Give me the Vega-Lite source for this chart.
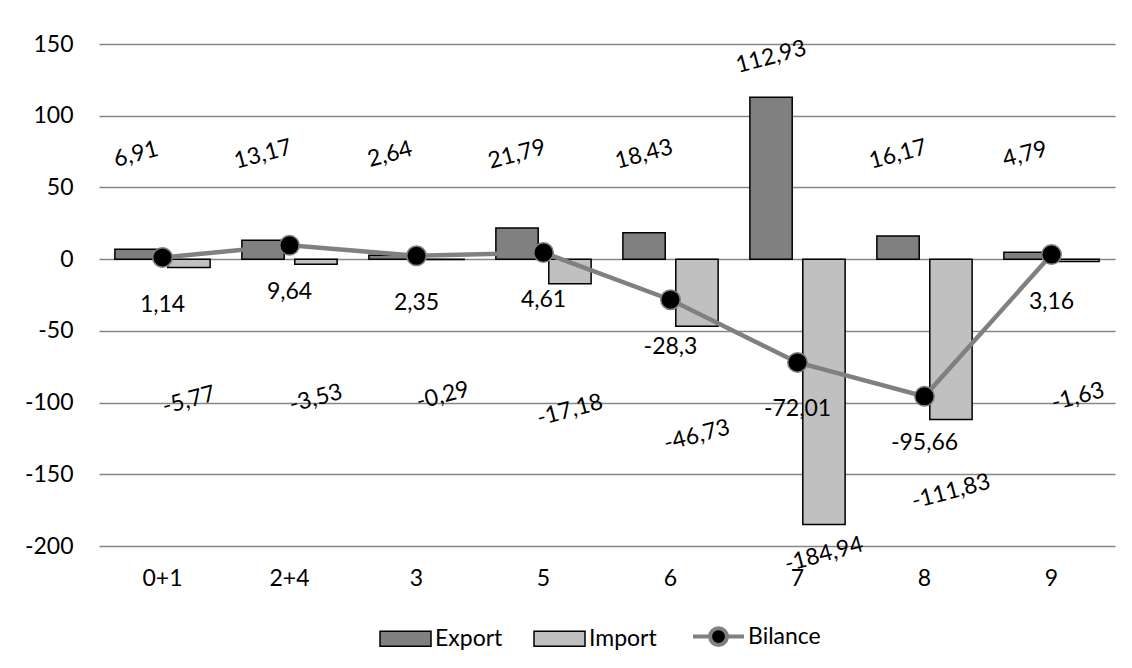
{
  "$schema": "https://vega.github.io/schema/vega-lite/v6.json",
  "width": 1016,
  "height": 502,
  "autosize": {"type": "none"},
  "padding": {"left": 99, "top": 44, "right": 17, "bottom": 122},
  "background": "white",
  "config": {
    "locale": {"number": {"decimal": ",", "thousands": " ", "grouping": [3], "currency": ["", ""], "minus": "-"}},
    "view": {"stroke": null},
    "font": "Lato",
    "axis": {"labelFont": "Lato", "labelFontSize": 23, "labelColor": "#000000", "gridColor": "#868686", "gridWidth": 1.3, "domain": false, "ticks": false, "title": null},
    "legend": {"layout": {"bottom": {"anchor": "middle"}}},
    "text": {"font": "Lato", "fontSize": 23, "color": "#000000"}
  },
  "data": {
    "values": [
      {"kat": "0+1", "Export": 6.91, "Import": -5.77, "Bilance": 1.14},
      {"kat": "2+4", "Export": 13.17, "Import": -3.53, "Bilance": 9.64},
      {"kat": "3", "Export": 2.64, "Import": -0.29, "Bilance": 2.35},
      {"kat": "5", "Export": 21.79, "Import": -17.18, "Bilance": 4.61},
      {"kat": "6", "Export": 18.43, "Import": -46.73, "Bilance": -28.3},
      {"kat": "7", "Export": 112.93, "Import": -184.94, "Bilance": -72.01},
      {"kat": "8", "Export": 16.17, "Import": -111.83, "Bilance": -95.66},
      {"kat": "9", "Export": 4.79, "Import": -1.63, "Bilance": 3.16}
    ]
  },
  "transform": [{"fold": ["Export", "Import", "Bilance"], "as": ["series", "value"]}],
  "encoding": {
    "x": {
      "field": "kat", "type": "nominal", "sort": null,
      "scale": {"domain": ["0+1", "2+4", "3", "5", "6", "7", "8", "9"], "paddingInner": 0.25, "paddingOuter": 0.125},
      "axis": {"orient": "bottom", "labelAngle": 0, "labelPadding": 21, "grid": false}
    }
  },
  "layer": [
    {
      "transform": [{"filter": "datum.series !== 'Bilance'"}],
      "mark": {"type": "bar", "stroke": "#000000", "strokeWidth": 1.5},
      "encoding": {
        "xOffset": {"field": "series", "type": "nominal", "scale": {"domain": ["Export", "Import"], "paddingInner": 0.2, "paddingOuter": 0}},
        "y": {
          "field": "value", "type": "quantitative",
          "scale": {"domain": [-200, 150], "nice": false, "zero": false},
          "axis": {"values": [-200, -150, -100, -50, 0, 50, 100, 150], "labelPadding": 26, "grid": true}
        },
        "fill": {
          "field": "series", "type": "nominal",
          "scale": {"domain": ["Export", "Import", "Bilance"], "range": ["#808080", "#c0c0c0", "#000000"]},
          "legend": {
            "orient": "bottom", "direction": "horizontal", "title": null,
            "symbolType": "M-1,-0.294H1V0.294H-1Z", "symbolSize": 2601,
            "symbolStrokeColor": "#000000", "symbolStrokeWidth": 1.5, "symbolOpacity": 1,
            "labelFont": "Lato", "labelFontSize": 23, "labelColor": "#000000",
            "labelOffset": 18, "columnPadding": 28, "offset": 35,
            "encode": {
              "symbols": {
                "update": {
                  "shape": {"signal": "datum.value === 'Bilance' ? 'M-1,0H-0.33M0.33,0H1M0.33,0A0.33,0.33 0 1,1 -0.33,0A0.33,0.33 0 1,1 0.33,0Z' : 'M-1,-0.294H1V0.294H-1Z'"},
                  "stroke": {"signal": "datum.value === 'Bilance' ? '#808080' : '#000000'"},
                  "strokeWidth": {"signal": "datum.value === 'Bilance' ? 4 : 1.5"},
                  "opacity": {"value": 1}
                }
              }
            }
          }
        }
      }
    },
    {
      "transform": [{"filter": "datum.series === 'Bilance'"}],
      "mark": {"type": "line", "color": "#808080", "strokeWidth": 4.5},
      "encoding": {
        "y": {"field": "value", "type": "quantitative"}
      }
    },
    {
      "transform": [{"filter": "datum.series === 'Bilance'"}],
      "mark": {"type": "point", "shape": "circle", "filled": true, "size": 380, "stroke": "#808080", "strokeWidth": 1.5, "opacity": 1},
      "encoding": {
        "y": {"field": "value", "type": "quantitative"},
        "fill": {"field": "series", "type": "nominal", "legend": null}
      }
    },
    {
      "transform": [
        {"filter": "datum.series === 'Export'"},
        {"calculate": "max(73, datum.value + 28)", "as": "labelY"}
      ],
      "mark": {"type": "text", "angle": -15, "align": "center", "baseline": "middle"},
      "encoding": {
        "xOffset": {"field": "series", "type": "nominal"},
        "y": {"field": "labelY", "type": "quantitative"},
        "text": {"field": "value", "type": "quantitative", "format": ".2~f"}
      }
    },
    {
      "transform": [
        {"filter": "datum.series === 'Import'"},
        {"calculate": "-95 + 0.6 * datum.value", "as": "labelY"}
      ],
      "mark": {"type": "text", "angle": -15, "align": "center", "baseline": "middle"},
      "encoding": {
        "xOffset": {"field": "series", "type": "nominal"},
        "y": {"field": "labelY", "type": "quantitative"},
        "text": {"field": "value", "type": "quantitative", "format": ".2~f"}
      }
    },
    {
      "transform": [{"filter": "datum.series === 'Bilance'"}],
      "mark": {"type": "text", "align": "center", "baseline": "middle", "dy": 47},
      "encoding": {
        "y": {"field": "value", "type": "quantitative"},
        "text": {"field": "value", "type": "quantitative", "format": ".2~f"}
      }
    }
  ]
}
